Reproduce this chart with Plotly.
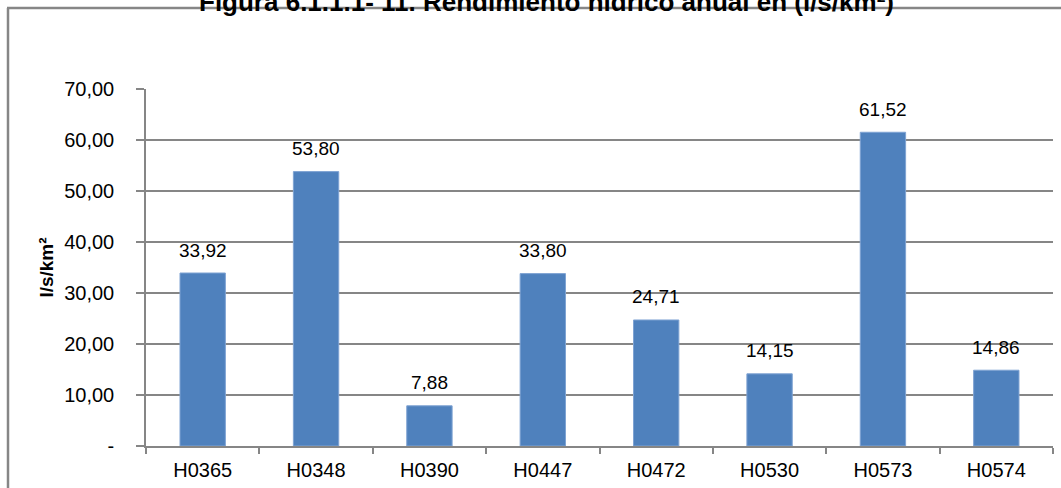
import plotly.graph_objects as go

categories = ["H0365", "H0348", "H0390", "H0447", "H0472", "H0530", "H0573", "H0574"]
values = [33.92, 53.80, 7.88, 33.80, 24.71, 14.15, 61.52, 14.86]
y_tickvals = [0, 10, 20, 30, 40, 50, 60, 70]
y_ticktext = ["-", "10,00", "20,00", "30,00", "40,00", "50,00", "60,00", "70,00"]
title_text = "Figura 6.1.1.1- 11. Rendimiento hídrico anual en (l/s/km²)"
y_title = "l/s/km²"

labels = [f"{v:.2f}".replace(".", ",") for v in values]

W, H = 1061, 488
L, R, T, B = 146, 8, 89, 42
pw, ph = W - L - R, H - T - B

def px_x(x):
    return (x - L) / pw

def px_y(y):
    return (H - B - y) / ph

gray = "#868686"
FONT = "Liberation Sans, Arial"

fig = go.Figure()
fig.add_trace(go.Bar(
    x=categories, y=values,
    marker=dict(color="#4F81BD", line=dict(color="#7FA3D3", width=1)),
    width=0.4,
    hoverinfo="x+y",
))

annotations = []
for c, v, t in zip(categories, values, labels):
    annotations.append(dict(
        x=c, y=v, xref="x", yref="y", text=t, showarrow=False,
        yanchor="middle", yshift=23,
        font=dict(family=FONT, size=19, color="#000000"),
    ))
annotations.append(dict(
    text=f"<b>{title_text}</b>", xref="paper", yref="paper",
    x=px_x(546), y=px_y(19), xanchor="center", yanchor="bottom",
    showarrow=False, font=dict(family=FONT, size=26, color="#000000"),
))

fig.update_layout(
    width=W, height=H,
    margin=dict(l=L, r=R, t=T, b=B, autoexpand=False),
    paper_bgcolor="white", plot_bgcolor="white",
    showlegend=False,
    font=dict(family=FONT, color="#000000"),
    xaxis=dict(
        showgrid=False, showline=True, linecolor=gray, linewidth=1.5,
        ticks="outside", tickson="boundaries", ticklen=6, tickcolor=gray, tickwidth=1.5,
        tickfont=dict(size=20, color="#000000"),
        ticklabelstandoff=5, automargin=False,
    ),
    yaxis=dict(
        range=[0, 70], tickvals=y_tickvals, ticktext=y_ticktext,
        showgrid=True, gridcolor=gray, gridwidth=1.5,
        showline=True, linecolor=gray, linewidth=1.5,
        ticks="outside", ticklen=8, tickcolor=gray, tickwidth=1.5,
        tickfont=dict(size=20, color="#000000"),
        ticklabelstandoff=18, automargin=False,
        zeroline=False,
        title=dict(text=f"<b>{y_title}</b>", font=dict(size=19, color="#000000"), standoff=6),
    ),
    bargap=0.6,
    annotations=annotations,
    shapes=[
        dict(type="line", xref="paper", yref="paper",
             x0=px_x(8), y0=px_y(H), x1=px_x(8), y1=px_y(8),
             line=dict(color=gray, width=2.5)),
        dict(type="line", xref="paper", yref="paper",
             x0=px_x(7), y0=px_y(8), x1=px_x(W), y1=px_y(8),
             line=dict(color=gray, width=2.5)),
    ],
)

fig.write_html("out.html", config={"displayModeBar": False},
               post_script="document.body.style.margin='0';document.body.style.overflow='hidden';")
